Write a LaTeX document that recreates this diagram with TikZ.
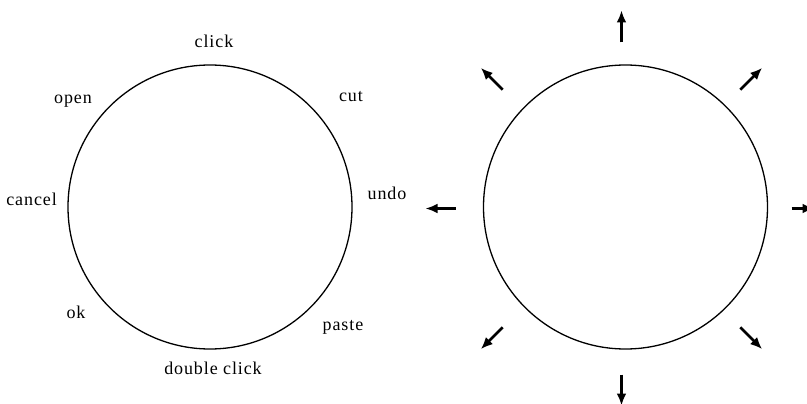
\documentclass[tikz,border=0pt]{standalone}
\usepackage{fontspec}
\setmainfont[LetterSpace=5]{Liberation Serif}
\usetikzlibrary{arrows.meta,calc}
\begin{document}
\begin{tikzpicture}[x=1pt,y=-1pt,
  ring/.style={circle,draw,line width=1.3pt,minimum size=284pt,inner sep=0pt},
  lbl/.style={font=\fontsize{18}{21}\selectfont,inner sep=0pt,anchor=base},
  outarrow/.style={line width=2.6pt,-{Latex[length=12pt,width=10pt]}}]
\useasboundingbox (0,0) rectangle (807,404);
% left circle with labels
\node[ring] (L) at (210,207) {};
\node[lbl] (click) at (214,48) {click};
\node[lbl] (cut) at (351,102) {cut};
\node[lbl] (open) at (73,104) {open};
\node[lbl] (undo) at (387,199) {undo};
\node[lbl,anchor=base east] (cancel) at (57,205) {cancel};
\node[lbl] (ok) at (76,318) {ok};
\node[lbl] (paste) at (343,330) {paste};
\node[lbl] (dclick) at (213,374) {double click};
% right circle with arrows
\node[ring] (R) at (625.5,207) {};
\coordinate (C) at (621.5,208.5);
\foreach \a/\s/\e in {-90/166/198, 90/166/197, 180/166/196, 0/170/193, -135/168/199, -45/168/199, 135/168/199, 45/168/199}{
  \draw[outarrow] ($(C)+(\a:\s)$) -- ($(C)+(\a:\e)$);
}
\end{tikzpicture}
\end{document}
